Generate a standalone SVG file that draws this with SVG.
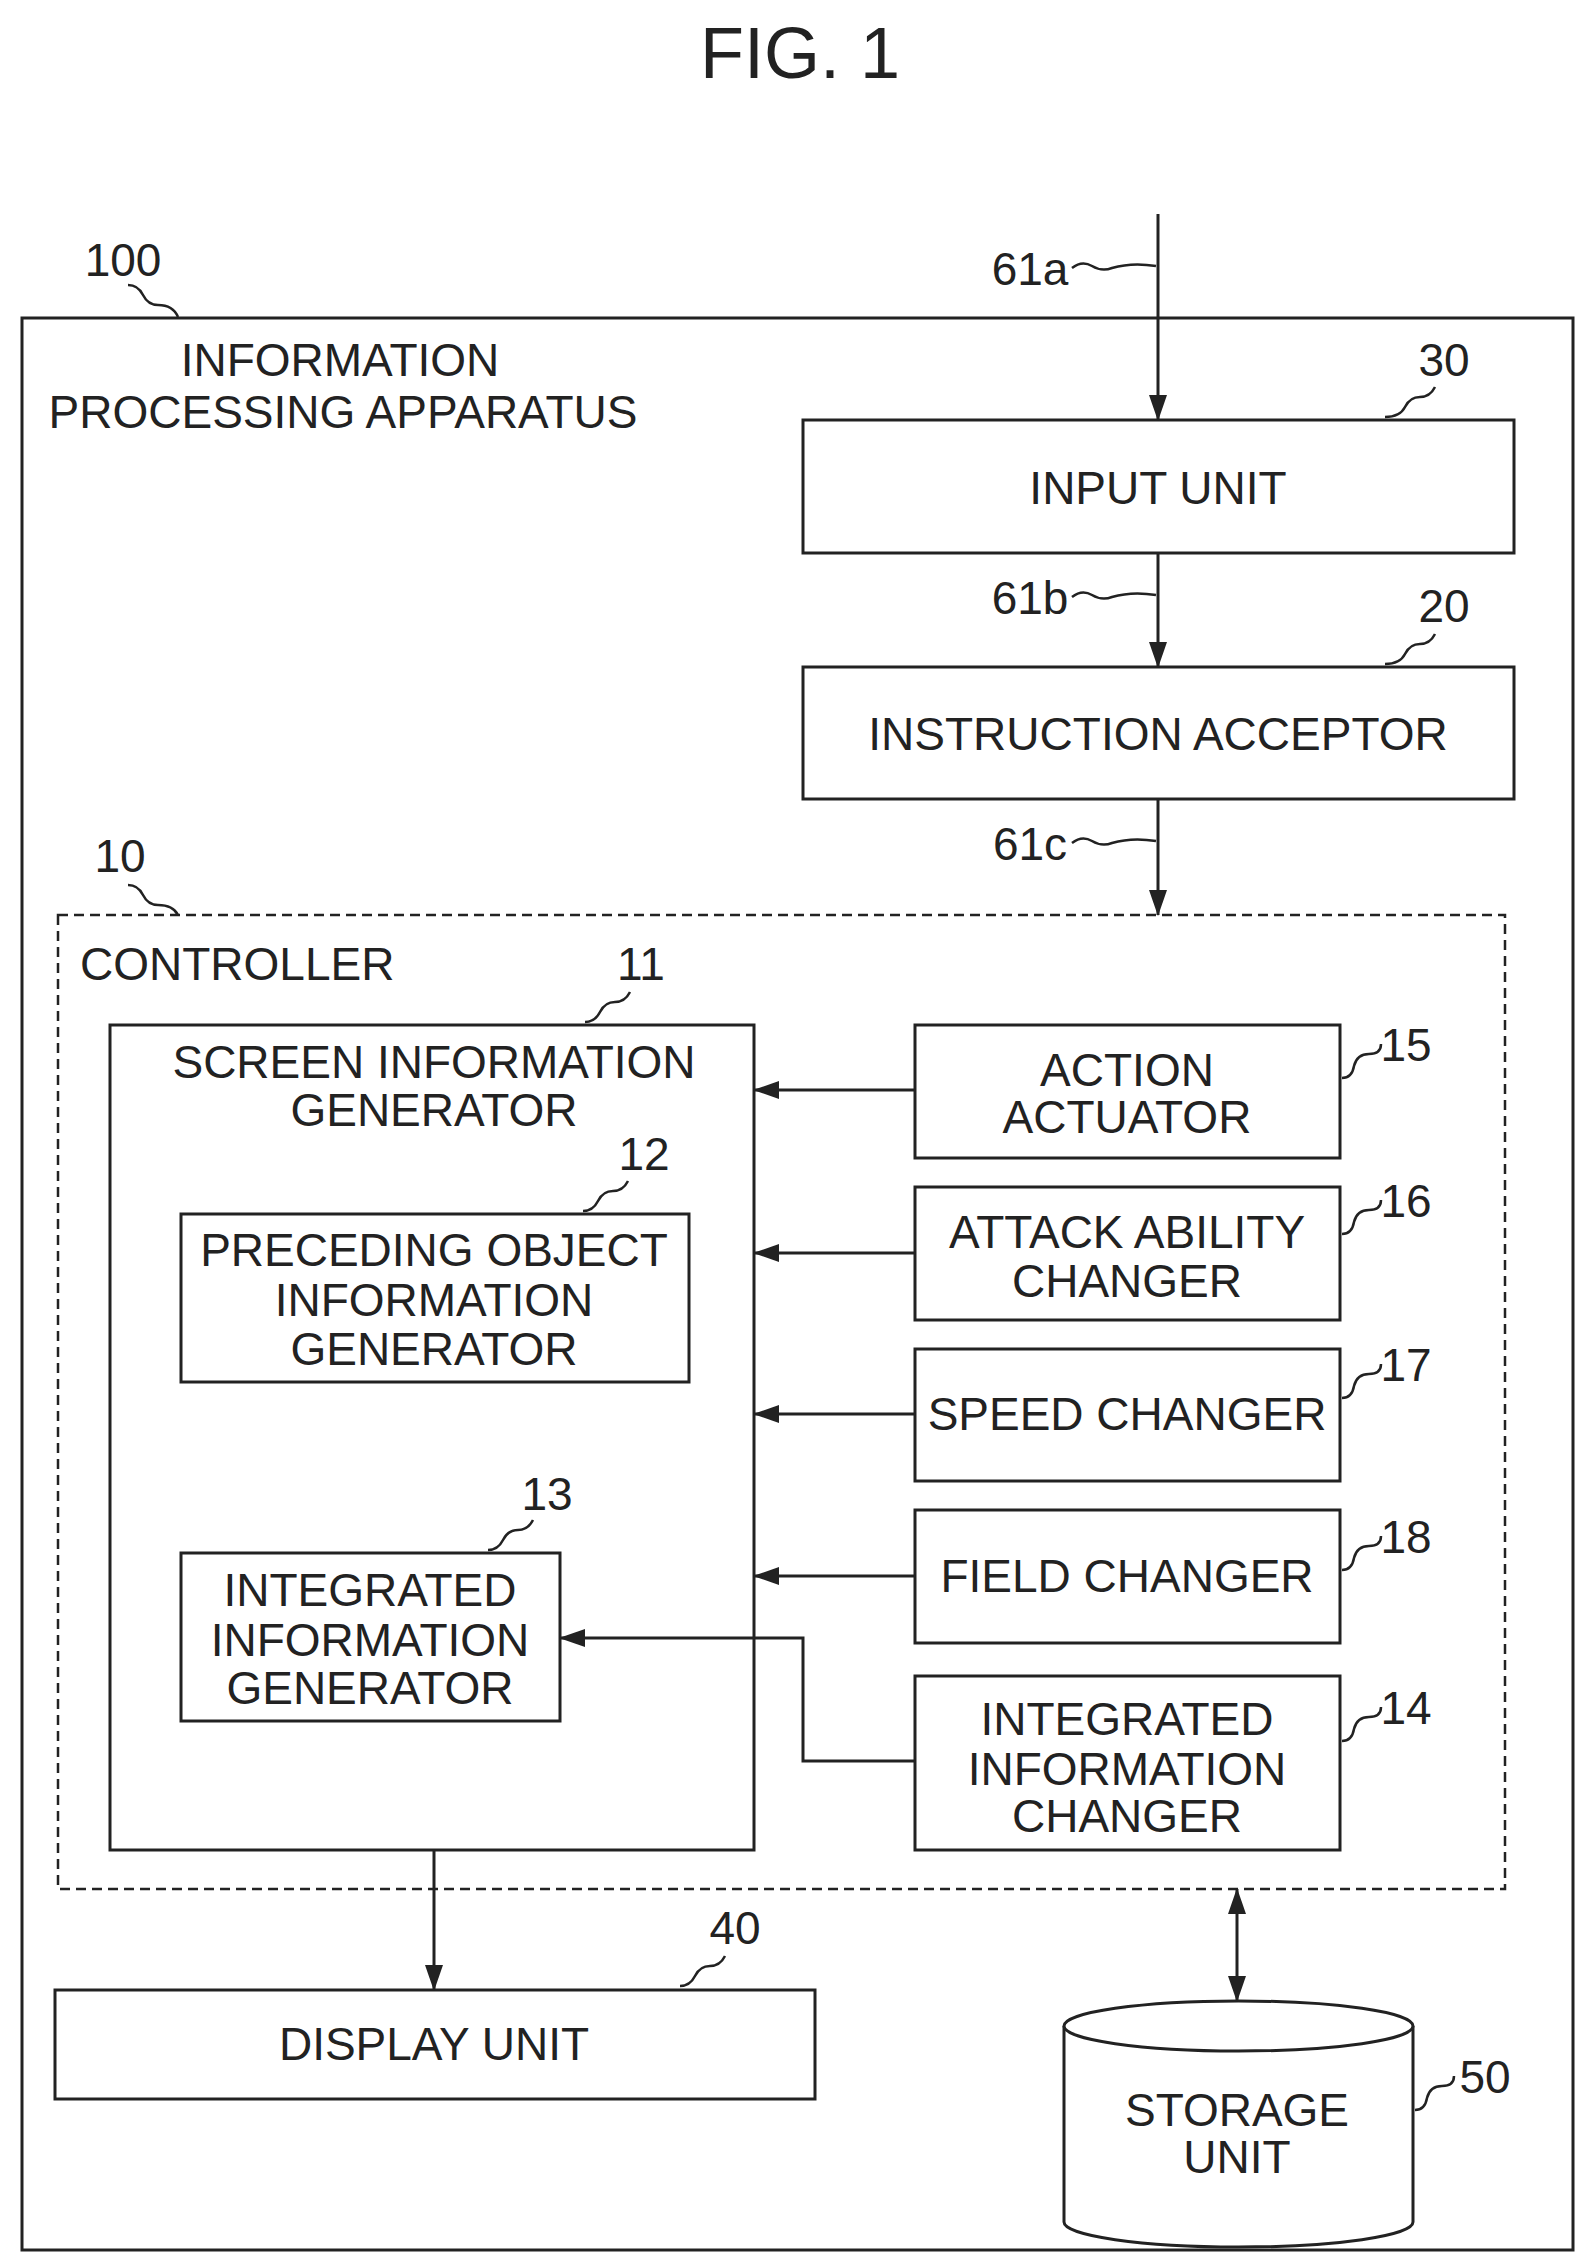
<svg xmlns="http://www.w3.org/2000/svg" width="1592" height="2265" viewBox="0 0 1592 2265">
<defs>
<style>
.b{fill:#fff;stroke:#222;stroke-width:3}
.l{fill:none;stroke:#222;stroke-width:3}
.t{font-family:"Liberation Sans",Arial,sans-serif;font-size:46px;fill:#222;text-anchor:middle}
.s{fill:none;stroke:#222;stroke-width:2.5}
</style>
<marker id="a" markerWidth="26" markerHeight="18" refX="25" refY="9" orient="auto" markerUnits="userSpaceOnUse" viewBox="0 0 26 18"><path d="M0,0L26,9L0,18z" fill="#222"/></marker>
<marker id="as" markerWidth="26" markerHeight="18" refX="1" refY="9" orient="auto" markerUnits="userSpaceOnUse" viewBox="0 0 26 18"><path d="M26,0L0,9L26,18z" fill="#222"/></marker>
</defs>
<rect width="1592" height="2265" fill="#fff"/>
<text x="800" y="78" class="t" style="font-size:72px">FIG. 1</text>
<g id="apparatus">
<rect x="22" y="318" width="1551" height="1932" class="b"/>
<text x="123" y="276" class="t">100</text>
<path d="M128,285 q10,0 15,10 q5,10 15,10 q15,0 20,12" class="s"/>
<text x="340" y="376" class="t">INFORMATION</text>
<text x="343" y="428" class="t">PROCESSING APPARATUS</text>
</g>
<g id="controller">
<rect x="58" y="915" width="1447" height="974" fill="none" stroke="#222" stroke-width="2.5" stroke-dasharray="10,6"/>
<text x="120" y="872" class="t">10</text>
<path d="M128,885 q10,0 15,10 q5,10 15,10 q15,0 20,10" class="s"/>
<text x="80" y="980" class="t" style="text-anchor:start">CONTROLLER</text>
</g>
<g id="n30">
<rect x="803" y="420" width="711" height="133" class="b"/>
<text x="1158" y="504" class="t">INPUT UNIT</text>
<text x="1444" y="376" class="t">30</text>
<path d="M1385,417 q15,0 20,-10 q5,-10 15,-10 q10,0 15,-10" class="s"/>
</g>
<g id="n20">
<rect x="803" y="667" width="711" height="132" class="b"/>
<text x="1158" y="750" class="t">INSTRUCTION ACCEPTOR</text>
<text x="1444" y="622" class="t">20</text>
<path d="M1385,664 q15,0 20,-10 q5,-10 15,-10 q10,0 15,-10" class="s"/>
</g>
<g id="n11">
<rect x="110" y="1025" width="644" height="825" class="b"/>
<text x="434" y="1078" class="t">SCREEN INFORMATION</text>
<text x="434" y="1126" class="t">GENERATOR</text>
<text x="641" y="980" class="t">11</text>
<path d="M585,1022 q10,0 15,-10 q5,-10 15,-10 q10,0 15,-10" class="s"/>
</g>
<g id="n12">
<rect x="181" y="1214" width="508" height="168" class="b"/>
<text x="434" y="1266" class="t">PRECEDING OBJECT</text>
<text x="434" y="1316" class="t">INFORMATION</text>
<text x="434" y="1365" class="t">GENERATOR</text>
<text x="644" y="1170" class="t">12</text>
<path d="M583,1211 q10,0 15,-10 q5,-10 15,-10 q10,0 15,-10" class="s"/>
</g>
<g id="n13">
<rect x="181" y="1553" width="379" height="168" class="b"/>
<text x="370" y="1606" class="t">INTEGRATED</text>
<text x="370" y="1656" class="t">INFORMATION</text>
<text x="370" y="1704" class="t">GENERATOR</text>
<text x="547" y="1510" class="t">13</text>
<path d="M488,1550 q10,0 15,-10 q5,-10 15,-10 q10,0 15,-10" class="s"/>
</g>
<g id="n15">
<rect x="915" y="1025" width="425" height="133" class="b"/>
<text x="1127" y="1086" class="t">ACTION</text>
<text x="1127" y="1133" class="t">ACTUATOR</text>
<text x="1406" y="1061" class="t">15</text>
<path d="M1342,1078 q10,0 12,-12 q3,-12 15,-12 q12,0 12,-10" class="s"/>
</g>
<g id="n16">
<rect x="915" y="1187" width="425" height="133" class="b"/>
<text x="1127" y="1248" class="t">ATTACK ABILITY</text>
<text x="1127" y="1297" class="t">CHANGER</text>
<text x="1406" y="1217" class="t">16</text>
<path d="M1342,1234 q10,0 12,-12 q3,-12 15,-12 q12,0 12,-10" class="s"/>
</g>
<g id="n17">
<rect x="915" y="1349" width="425" height="132" class="b"/>
<text x="1127" y="1430" class="t">SPEED CHANGER</text>
<text x="1406" y="1381" class="t">17</text>
<path d="M1342,1398 q10,0 12,-12 q3,-12 15,-12 q12,0 12,-10" class="s"/>
</g>
<g id="n18">
<rect x="915" y="1510" width="425" height="133" class="b"/>
<text x="1127" y="1592" class="t">FIELD CHANGER</text>
<text x="1406" y="1553" class="t">18</text>
<path d="M1342,1570 q10,0 12,-12 q3,-12 15,-12 q12,0 12,-10" class="s"/>
</g>
<g id="n14">
<rect x="915" y="1676" width="425" height="174" class="b"/>
<text x="1127" y="1735" class="t">INTEGRATED</text>
<text x="1127" y="1785" class="t">INFORMATION</text>
<text x="1127" y="1832" class="t">CHANGER</text>
<text x="1406" y="1724" class="t">14</text>
<path d="M1342,1741 q10,0 12,-12 q3,-12 15,-12 q12,0 12,-10" class="s"/>
</g>
<g id="n40">
<rect x="55" y="1990" width="760" height="109" class="b"/>
<text x="434" y="2060" class="t">DISPLAY UNIT</text>
<text x="735" y="1944" class="t">40</text>
<path d="M680,1986 q10,0 15,-10 q5,-10 15,-10 q10,0 15,-10" class="s"/>
</g>
<g id="n50">
<path d="M1064,2026 v196 a174.5,25 0 0 0 349,0 v-196" class="b"/>
<ellipse cx="1238.5" cy="2026" rx="174.5" ry="25" class="b"/>
<text x="1237" y="2126" class="t">STORAGE</text>
<text x="1237" y="2173" class="t">UNIT</text>
<text x="1485" y="2093" class="t">50</text>
<path d="M1415,2110 q10,0 12,-12 q3,-12 15,-12 q12,0 12,-10" class="s"/>
</g>
<g id="connectors">
<line x1="1158" y1="214" x2="1158" y2="420" class="l" marker-end="url(#a)"/>
<text x="1030" y="285" class="t">61a</text>
<path d="M1072,268 q10,-8 20,-2 q10,6 20,2 q20,-6 44,-2" class="s"/>
<line x1="1158" y1="553" x2="1158" y2="667" class="l" marker-end="url(#a)"/>
<text x="1030" y="614" class="t">61b</text>
<path d="M1072,597 q10,-8 20,-2 q10,6 20,2 q20,-6 44,-2" class="s"/>
<line x1="1158" y1="799" x2="1158" y2="915" class="l" marker-end="url(#a)"/>
<text x="1030" y="860" class="t">61c</text>
<path d="M1072,843 q10,-8 20,-2 q10,6 20,2 q20,-6 44,-2" class="s"/>
<line x1="915" y1="1090" x2="754" y2="1090" class="l" marker-end="url(#a)"/>
<line x1="915" y1="1253" x2="754" y2="1253" class="l" marker-end="url(#a)"/>
<line x1="915" y1="1414" x2="754" y2="1414" class="l" marker-end="url(#a)"/>
<line x1="915" y1="1576" x2="754" y2="1576" class="l" marker-end="url(#a)"/>
<path d="M915,1761 H803 V1638 H560" class="l" marker-end="url(#a)"/>
<line x1="434" y1="1850" x2="434" y2="1990" class="l" marker-end="url(#a)"/>
<line x1="1237" y1="1889" x2="1237" y2="2001" class="l" marker-start="url(#as)" marker-end="url(#a)"/>
</g>
</svg>
